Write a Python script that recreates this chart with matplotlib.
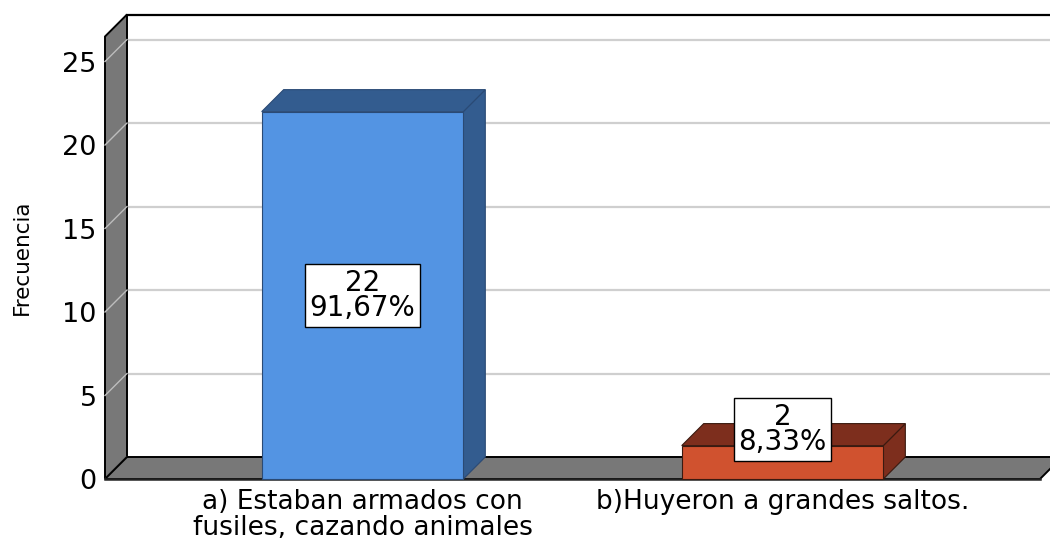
import matplotlib
matplotlib.use("Agg")
import matplotlib.pyplot as plt
from matplotlib.patches import Polygon
from matplotlib.lines import Line2D
from matplotlib.transforms import IdentityTransform

# ---------------- data ----------------
categories = ["a) Estaban armados con\nfusiles, cazando animales",
              "b)Huyeron a grandes saltos."]
counts = [22, 2]
percents = ["91,67%", "8,33%"]
yticks = [0, 5, 10, 15, 20, 25]
ylabel = "Frecuencia"

# ---------------- style ----------------
front_colors = ["#5394E3", "#D0522F"]
dark_colors = ["#335C8F", "#7D2E1D"]
edge_colors = ["#2A4A75", "#3A1A10"]
label_pos = [11.0, 2.95]     # vertical position of value boxes
wall_color = "#787878"
grid_color = "#CFCFCF"
DX, DY = 22, 22              # 3D depth offset in pixels
bar_w = 0.48
ymax = 26.5
plt.rcParams['font.family'] = ['DejaVu Sans']

W, H = 1050, 541
fig = plt.figure(figsize=(W / 100, H / 100), dpi=100)
fig.patch.set_facecolor("white")
ax = fig.add_axes([105 / W, (H - 479) / H, (1040 - 105) / W, (479 - 36.5) / H])
ax.set_xlim(-0.613, 1.613)
ax.set_ylim(0, ymax)
ax.patch.set_visible(False)
for s in ax.spines.values():
    s.set_visible(False)
ax.set_yticks(yticks)
ax.set_yticklabels([str(t) for t in yticks], fontsize=19.5)
ax.set_xticks(range(len(categories)))
ax.set_xticklabels(categories, fontsize=19, linespacing=1.02, va="top")
ax.tick_params(axis="y", length=0, pad=6)
ax.tick_params(axis="x", length=0, pad=7)
fig.text(22 / W, 1 - 257 / H, ylabel, rotation=90, ha="center", va="center",
         fontsize=15.5, fontweight="medium")

x0, x1 = ax.get_xlim()


def P(x, y, back=False):
    px, py = ax.transData.transform((x, y))
    if back:
        px += DX
        py += DY
    return (px, py)


def poly(pts, fc, ec, lw=1.0, z=1):
    p = Polygon(pts, closed=True, facecolor=fc, edgecolor=ec, linewidth=lw,
                transform=IdentityTransform(), zorder=z, clip_on=False, joinstyle="miter")
    ax.add_artist(p)


def line(a, b, color, lw, z):
    ln = Line2D([a[0], b[0]], [a[1], b[1]], color=color, linewidth=lw,
                transform=IdentityTransform(), zorder=z, clip_on=False)
    ax.add_artist(ln)


# back wall
poly([P(x0, 0, True), P(x1 + 0.2, 0, True), P(x1 + 0.2, ymax, True), P(x0, ymax, True)],
     "white", "none", 0, 0.5)
line(P(x0, ymax, True), P(x1 + 0.2, ymax, True), "black", 1.6, 0.9)
# gridlines on back wall and left wall
for t in yticks[1:]:
    line(P(x0, t, True), P(x1 + 0.2, t, True), grid_color, 1.6, 0.7)
# left wall
poly([P(x0, 0), P(x0, ymax), P(x0, ymax, True), P(x0, 0, True)], wall_color, "black", 1.4, 1)
for t in yticks:
    line(P(x0, t), P(x0, t, True), "#BDBDBD", 1.0, 1.1)
# floor
poly([P(x0, 0), P(x1, 0), P(x1, 0, True), P(x0, 0, True)], wall_color, "black", 1.4, 1.2)
line(P(x0, 0), P(x1, 0), "#222222", 1.8, 1.25)

# bars
for i, (c, fc, dc, ec) in enumerate(zip(counts, front_colors, dark_colors, edge_colors)):
    l, r = i - bar_w / 2, i + bar_w / 2
    poly([P(r, 0), P(r, c), P(r, c, True), P(r, 0, True)], dc, ec, 0.8, 2)
    poly([P(l, c), P(r, c), P(r, c, True), P(l, c, True)], dc, ec, 0.8, 2)
    poly([P(l, 0), P(r, 0), P(r, c), P(l, c)], fc, ec, 0.8, 2.1)

# value boxes
for i, (c, p, yp) in enumerate(zip(counts, percents, label_pos)):
    ax.text(i, yp, f"{c}\n{p}", ha="center", va="center", fontsize=20,
            linespacing=0.88, zorder=5,
            bbox=dict(boxstyle="square,pad=0.17", fc="white", ec="black", lw=1.0))

fig.savefig("out.png", dpi=100)
